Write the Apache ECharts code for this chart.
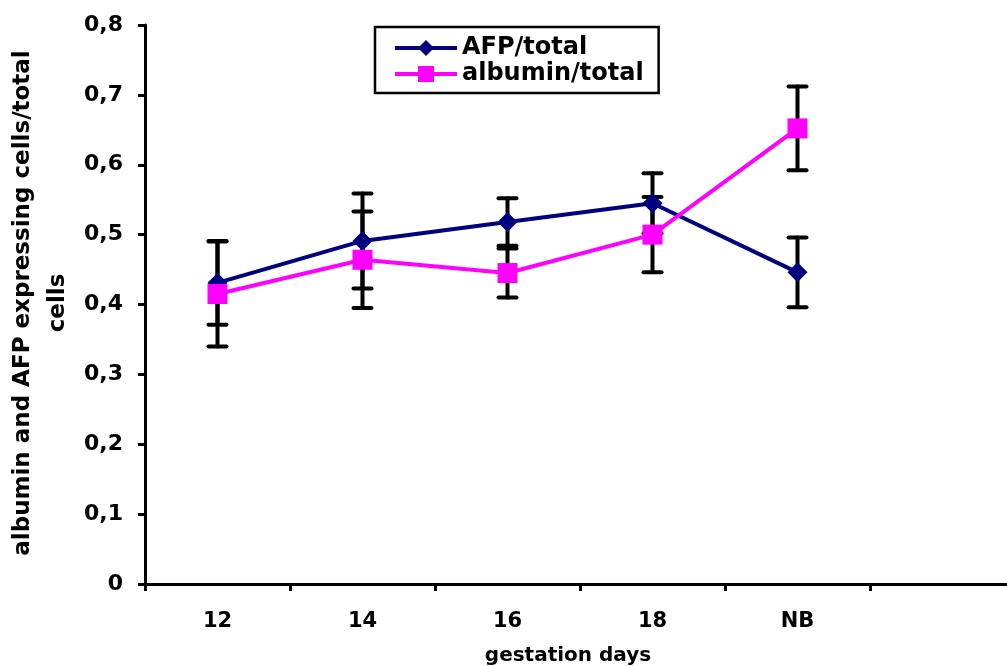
<!DOCTYPE html>
<html>
<head>
<meta charset="utf-8">
<script src="https://cdn.jsdelivr.net/npm/echarts@6/dist/echarts.min.js"></script>
<style>
  html, body { margin: 0; padding: 0; background: #fff; }
  #chart { width: 1007px; height: 666px; }
</style>
</head>
<body>
<div id="chart"></div>
<script>
var days = ['12', '14', '16', '18', 'NB', '']
var afp = [0.431, 0.491, 0.518, 0.545, 0.446]
var afpErr = [0.06, 0.068, 0.034, 0.043, 0.05]
var alb = [0.415, 0.464, 0.445, 0.5, 0.652]
var albErr = [0.075, 0.069, 0.035, 0.054, 0.06]

var FONT = 'DejaVu Sans, Arial, sans-serif'

function errData (vals, errs) {
  return vals.map(function (v, i) {
    return [i, v - errs[i], v + errs[i]]
  })
}

function renderErr (params, api) {
  var i = api.value(0)
  var lo = api.coord([i, api.value(1)])
  var hi = api.coord([i, api.value(2)])
  var w = 9
  var st = { stroke: '#000', lineWidth: 4, lineCap: 'round' }
  return {
    type: 'group',
    children: [
      { type: 'line', shape: { x1: lo[0], y1: lo[1], x2: hi[0], y2: hi[1] }, style: st },
      { type: 'line', shape: { x1: lo[0] - w, y1: lo[1], x2: lo[0] + w, y2: lo[1] }, style: st },
      { type: 'line', shape: { x1: hi[0] - w, y1: hi[1], x2: hi[0] + w, y2: hi[1] }, style: st }
    ]
  }
}

var chart = echarts.init(document.getElementById('chart'))
var option = {
  animation: false,
  textStyle: { fontFamily: FONT },
  grid: { left: 145, top: 25, width: 870, bottom: 82, outerBoundsMode: 'none', containLabel: false },
  legend: {
    data: ['AFP/total', 'albumin/total'],
    orient: 'vertical',
    left: 375,
    top: 27,
    padding: [9, 15, 7, 18],
    itemGap: 2,
    itemWidth: 62,
    itemHeight: 20,
    borderColor: '#000',
    borderWidth: 2.5,
    lineStyle: { width: 4 },
    textStyle: { fontSize: 24, fontWeight: 'bold', color: '#000', fontFamily: FONT }
  },
  xAxis: {
    type: 'category',
    data: days,
    boundaryGap: true,
    name: 'gestation days',
    nameLocation: 'middle',
    nameGap: 62,
    nameTextStyle: { fontSize: 20, fontWeight: 'bold', color: '#000', padding: [0, 24, 0, 0] },
    axisLine: { lineStyle: { color: '#000', width: 3 } },
    axisTick: { show: true, interval: 0, length: 7, lineStyle: { color: '#000', width: 3 } },
    axisLabel: { margin: 27, fontSize: 21, fontWeight: 'bold', color: '#000' }
  },
  yAxis: {
    type: 'value',
    min: 0,
    max: 0.8,
    interval: 0.1,
    axisLine: { show: true, lineStyle: { color: '#000', width: 3 } },
    axisTick: { show: true, length: 7, lineStyle: { color: '#000', width: 3 } },
    splitLine: { show: false },
    axisLabel: {
      margin: 22,
      fontSize: 22,
      fontWeight: 'bold',
      color: '#000',
      formatter: function (v) {
        return v === 0 ? '0' : v.toFixed(1).replace('.', ',')
      }
    }
  },
  graphic: [
    {
      type: 'text',
      x: 6,
      y: 303,
      rotation: Math.PI / 2,
      style: {
        text: 'albumin and AFP expressing cells/total\ncells',
        fontSize: 23,
        fontWeight: 'bold',
        fontFamily: FONT,
        fill: '#000',
        align: 'center',
        verticalAlign: 'top',
        lineHeight: 35
      }
    }
  ],
  series: [
    {
      type: 'custom',
      renderItem: renderErr,
      data: errData(afp, afpErr),
      encode: { x: 0, y: [1, 2] },
      z: 1,
      silent: true
    },
    {
      type: 'custom',
      renderItem: renderErr,
      data: errData(alb, albErr),
      encode: { x: 0, y: [1, 2] },
      z: 1,
      silent: true
    },
    {
      name: 'AFP/total',
      type: 'line',
      data: afp,
      symbol: 'diamond',
      symbolSize: 20,
      color: '#000080',
      lineStyle: { width: 4, color: '#000080' },
      itemStyle: { color: '#000080' },
      z: 3
    },
    {
      name: 'albumin/total',
      type: 'line',
      data: alb,
      symbol: 'rect',
      symbolSize: 20,
      color: '#ff00ff',
      lineStyle: { width: 4, color: '#ff00ff' },
      itemStyle: { color: '#ff00ff' },
      z: 3
    }
  ]
}
chart.setOption(option)
</script>
</body>
</html>
